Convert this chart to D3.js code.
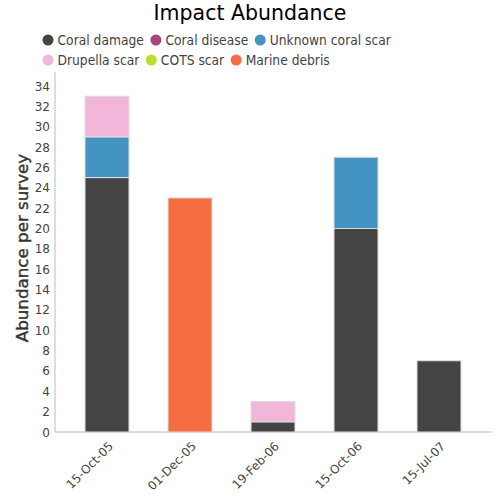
<!DOCTYPE html>
<html><head><meta charset="utf-8">
<script src="https://cdn.jsdelivr.net/npm/d3@7"></script>
<style>body{margin:0;background:#fff;font-family:"DejaVu Sans",sans-serif;}</style>
</head><body>
<svg id="c" width="500" height="500"></svg>
<script>
const categories = ["15-Oct-05","01-Dec-05","19-Feb-06","15-Oct-06","15-Jul-07"];
const seriesNames = ["Coral damage","Coral disease","Unknown coral scar","Drupella scar","COTS scar","Marine debris"];
const seriesColors = ["#444444","#a6487c","#4393c3","#f1b6da","#b8e02a","#f46d43"];
const coralDamage = [25,0,1,20,7];
const coralDisease = [0,0,0,0,0];
const unknownScar = [4,0,0,7,0];
const drupellaScar = [4,0,2,0,0];
const cotsScar = [0,0,0,0,0];
const marineDebris = [0,23,0,0,0];
const yTicks = d3.range(0,35,2);

(function(){
const seriesValues = [coralDamage,coralDisease,unknownScar,drupellaScar,cotsScar,marineDebris];
const table = categories.map((c,i)=>{const o={cat:c};seriesNames.forEach((s,j)=>o[s]=seriesValues[j][i]);return o;});
const stack = d3.stack().keys(seriesNames)(table);

const svg = d3.select("#c");
const pLeft=55,pRight=492,pTop=86,pBottom=432;
const x = d3.scaleBand().domain(categories).range([65.5,480.5]).paddingInner(0.47).paddingOuter(0.235);
const y = d3.scaleLinear().domain([0,34]).range([pBottom,pTop]);

svg.append("text").attr("x",250).attr("y",20).attr("text-anchor","middle")
  .attr("font-size",20.5).attr("fill","#000").text("Impact Abundance");

// legend
const legendRows=[[0,1,2],[3,4,5]];
legendRows.forEach((row,r)=>{
  let cx=48;
  row.forEach((k)=>{
    const g=svg.append("g");
    const t=g.append("text").attr("x",cx+9.5).attr("y",45+r*20)
      .attr("font-family","'DejaVu Sans Condensed','DejaVu Sans',sans-serif")
      .attr("font-size",13.7).attr("fill","#444").text(seriesNames[k]);
    g.append("circle").attr("cx",cx).attr("cy",40+r*20).attr("r",5.5).attr("fill",seriesColors[k]);
    const w=t.node().getComputedTextLength();
    cx += 9.5+w+12;
  });
});

// axes
svg.append("line").attr("x1",pLeft).attr("x2",pLeft).attr("y1",72).attr("y2",pBottom).attr("stroke","#bbb");
svg.append("line").attr("x1",pLeft).attr("x2",pRight).attr("y1",pBottom).attr("y2",pBottom).attr("stroke","#bbb");
svg.selectAll(".yt").data(yTicks).enter().append("text")
  .attr("x",pLeft-5).attr("y",d=>y(d)+4.5).attr("text-anchor","end").attr("font-size",12).attr("fill","#444").text(d=>d);
svg.selectAll(".xt").data(categories).enter().append("text")
  .attr("transform",d=>`translate(${x(d)+x.bandwidth()/2+4},${pBottom+12}) rotate(-45)`)
  .attr("text-anchor","end").attr("font-size",12).attr("fill","#444").attr("dy","0.35em").text(d=>d);
svg.append("text").attr("transform",`translate(27.5,248) rotate(-90)`)
  .attr("text-anchor","middle").attr("font-size",16.7).attr("fill","#333")
  .attr("stroke","#333").attr("stroke-width",0.4).text("Abundance per survey");

// bars
stack.forEach((s,j)=>{
  svg.append("g").selectAll("rect").data(s.filter(d=>d[1]-d[0]>0)).enter().append("rect")
    .attr("x",d=>x(d.data.cat)).attr("width",x.bandwidth())
    .attr("y",d=>y(d[1])).attr("height",d=>y(d[0])-y(d[1]))
    .attr("fill",seriesColors[j]).attr("stroke","#ddd").attr("stroke-width",1);
});
})();
</script>
</body></html>
